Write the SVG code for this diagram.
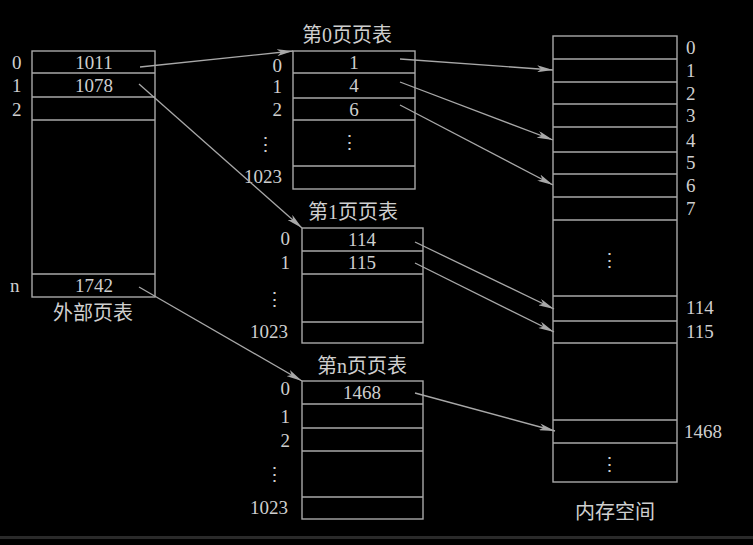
<svg xmlns="http://www.w3.org/2000/svg" width="753" height="545" viewBox="0 0 753 545">
<style>
.box{fill:none;stroke:#a8a8a8;stroke-width:1.4}
.ln{stroke:#a8a8a8;stroke-width:1.4}
.t{font-family:"Liberation Serif","Noto Sans CJK SC",serif;font-size:19px;fill:#cfcfcf}
.m{text-anchor:middle}
.r{text-anchor:end}
.c{font-family:"Liberation Serif","Noto Sans CJK SC",serif;font-size:20px;fill:#cfcfcf;text-anchor:middle}
.ar{stroke:#a8a8a8;stroke-width:1.3;fill:none;marker-end:url(#ah)}
</style>
<defs>
<marker id="ah" viewBox="0 0 16 7" refX="16" refY="3.5" markerWidth="16" markerHeight="7" markerUnits="userSpaceOnUse" orient="auto">
<path d="M0,0 L16,3.5 L0,7 L4,3.5 Z" fill="#a8a8a8"/>
</marker>
</defs>
<rect width="753" height="545" fill="#000"/>
<rect x="0" y="536" width="753" height="3" fill="#2a2a2a"/>

<g id="outer">
<rect class="box" x="32" y="51" width="123" height="246"/>
<line class="ln" x1="32" y1="73" x2="155" y2="73"/>
<line class="ln" x1="32" y1="97" x2="155" y2="97"/>
<line class="ln" x1="32" y1="120" x2="155" y2="120"/>
<line class="ln" x1="32" y1="274" x2="155" y2="274"/>
<text class="t m" x="94" y="68.5">1011</text>
<text class="t m" x="94" y="91.5">1078</text>
<text class="t m" x="94" y="292">1742</text>
<text class="t" x="12" y="69">0</text>
<text class="t" x="12" y="92">1</text>
<text class="t" x="12" y="115.5">2</text>
<text class="t" x="10" y="292">n</text>
<text class="c" x="93" y="320">外部页表</text>
</g>

<g id="pt0">
<text class="c" x="347" y="42">第0页页表</text>
<rect class="box" x="293" y="51" width="122" height="138"/>
<line class="ln" x1="293" y1="73" x2="415" y2="73"/>
<line class="ln" x1="293" y1="98" x2="415" y2="98"/>
<line class="ln" x1="293" y1="120" x2="415" y2="120"/>
<line class="ln" x1="293" y1="166" x2="415" y2="166"/>
<text class="t m" x="354" y="69">1</text>
<text class="t m" x="354" y="91.5">4</text>
<text class="t m" x="354" y="115.5">6</text>
<text class="t m" x="349" y="149">⋮</text>
<text class="t r" x="282" y="72">0</text>
<text class="t r" x="282" y="92.5">1</text>
<text class="t r" x="282" y="116">2</text>
<text class="t r" x="275" y="151">⋮</text>
<text class="t r" x="282" y="183">1023</text>
</g>

<g id="pt1">
<text class="c" x="353" y="219">第1页页表</text>
<rect class="box" x="302" y="228" width="121" height="115"/>
<line class="ln" x1="302" y1="251" x2="423" y2="251"/>
<line class="ln" x1="302" y1="274" x2="423" y2="274"/>
<line class="ln" x1="302" y1="322" x2="423" y2="322"/>
<text class="t m" x="362" y="246">114</text>
<text class="t m" x="362" y="269">115</text>
<text class="t r" x="290" y="245">0</text>
<text class="t r" x="290" y="269">1</text>
<text class="t r" x="284" y="306">⋮</text>
<text class="t r" x="288" y="338">1023</text>
</g>

<g id="ptn">
<text class="c" x="362" y="372.5">第n页页表</text>
<rect class="box" x="302" y="381" width="121" height="138"/>
<line class="ln" x1="302" y1="404" x2="423" y2="404"/>
<line class="ln" x1="302" y1="428" x2="423" y2="428"/>
<line class="ln" x1="302" y1="451" x2="423" y2="451"/>
<line class="ln" x1="302" y1="497" x2="423" y2="497"/>
<text class="t m" x="362" y="399">1468</text>
<text class="t r" x="290" y="395">0</text>
<text class="t r" x="290" y="423">1</text>
<text class="t r" x="290" y="446.5">2</text>
<text class="t r" x="284" y="481">⋮</text>
<text class="t r" x="288" y="514">1023</text>
</g>

<g id="mem">
<rect class="box" x="553" y="36" width="124" height="446"/>
<line class="ln" x1="553" y1="59" x2="677" y2="59"/>
<line class="ln" x1="553" y1="82" x2="677" y2="82"/>
<line class="ln" x1="553" y1="104" x2="677" y2="104"/>
<line class="ln" x1="553" y1="127" x2="677" y2="127"/>
<line class="ln" x1="553" y1="152" x2="677" y2="152"/>
<line class="ln" x1="553" y1="174" x2="677" y2="174"/>
<line class="ln" x1="553" y1="197" x2="677" y2="197"/>
<line class="ln" x1="553" y1="220" x2="677" y2="220"/>
<line class="ln" x1="553" y1="296" x2="677" y2="296"/>
<line class="ln" x1="553" y1="321" x2="677" y2="321"/>
<line class="ln" x1="553" y1="343" x2="677" y2="343"/>
<line class="ln" x1="553" y1="420" x2="677" y2="420"/>
<line class="ln" x1="553" y1="443" x2="677" y2="443"/>
<text class="t m" x="609" y="267">⋮</text>
<text class="t m" x="609" y="471">⋮</text>
<text class="t" x="686" y="54">0</text>
<text class="t" x="686" y="76.5">1</text>
<text class="t" x="686" y="100">2</text>
<text class="t" x="686" y="122">3</text>
<text class="t" x="686" y="146.5">4</text>
<text class="t" x="686" y="169">5</text>
<text class="t" x="686" y="192">6</text>
<text class="t" x="686" y="215">7</text>
<text class="t" x="686" y="314">114</text>
<text class="t" x="686" y="338">115</text>
<text class="t" x="684" y="438">1468</text>
<text class="c" x="615" y="519">内存空间</text>
</g>

<g id="connectors">
<line class="ar" x1="140" y1="67" x2="293" y2="51"/>
<line class="ar" x1="139" y1="84" x2="302" y2="228"/>
<line class="ar" x1="139" y1="287" x2="302" y2="381"/>
<line class="ar" x1="400" y1="59" x2="553" y2="70"/>
<line class="ar" x1="400" y1="82" x2="553" y2="140"/>
<line class="ar" x1="400" y1="105" x2="553" y2="185"/>
<line class="ar" x1="415" y1="242" x2="554" y2="309"/>
<line class="ar" x1="415" y1="263" x2="554" y2="332"/>
<line class="ar" x1="415" y1="393" x2="555" y2="431"/>
</g>
</svg>
